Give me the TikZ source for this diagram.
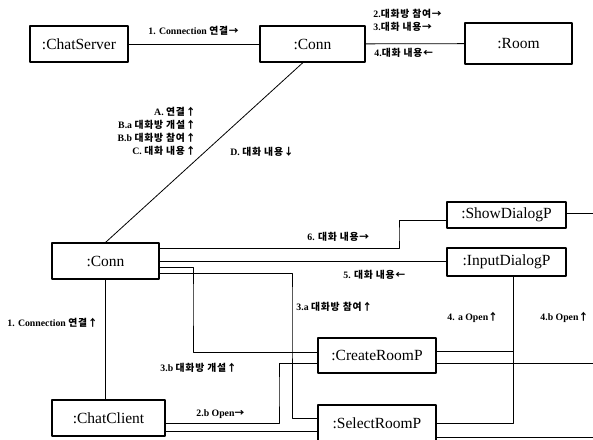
\documentclass[tikz,border=0pt]{standalone}
\usepackage{fontspec}
\setmainfont{Liberation Serif}
\newfontfamily\kr[LetterSpace=8]{Noto Sans CJK KR}
\newcommand\ko[1]{{\kr #1}}
\begin{document}
\begin{tikzpicture}[x=1pt,y=-1pt,line width=.8pt,line join=round,
obj/.style={draw,line width=1.1pt,inner sep=0pt,font=\fontsize{15.5}{17}\selectfont},
msg/.style={inner sep=0pt,font=\fontsize{9.8}{11}\selectfont\bfseries}]
\useasboundingbox (0,0) rectangle (593,439);
\clip (0,0) rectangle (593,439);
\foreach \n/\t/\x/\y/\w/\h in {ChatServer/:ChatServer/79/44/98/36,
ConnS/:Conn/312.5/44/105/36,Room/:Room/518.5/43.5/107/41,
ConnC/:Conn/105.5/261/107/36,ChatClient/:ChatClient/108.5/418/113/36,
ShowDialogP/:ShowDialogP/506.5/215/119/26,InputDialogP/:InputDialogP/506.5/262/119/28,
CreateRoomP/:CreateRoomP/377/355.5/118/35,SelectRoomP/:SelectRoomP/377/423/118/36}
\node[obj,minimum width=\w pt,minimum height=\h pt] (\n) at (\x,\y) {\t};
\path
(399,234)coordinate(kS)
(193,300)coordinate(kC)
(292,300)coordinate(kL)
(279,390)coordinate(kB)
(513,351)coordinate(kR);
% server side
\draw (ChatServer) -- (ConnS);
\draw (ConnS) -- (Room);
\draw ([xshift=-9.5pt]ConnS.south) -- (ConnC.north);
% client side
\draw (ConnC.south) -- (ConnC.south |- ChatClient.north);
\draw ([yshift=13pt]ConnC.east) -| (kS) |- ([yshift=-5pt]ShowDialogP.west);
\draw (ConnC.east) -- (ConnC.east -| InputDialogP.west);
\draw ([yshift=-6pt]ConnC.east) -| (kC) |- ([yshift=3.5pt]CreateRoomP.west);
\draw ([yshift=-12pt]ConnC.east) -| (kL) |- ([yshift=5pt]SelectRoomP.west);
\draw ([yshift=-5pt]ChatClient.east) -| (kB) |- ([yshift=-7.5pt]CreateRoomP.west);
\draw ([yshift=-13pt]ChatClient.east) -- ([yshift=-8pt]SelectRoomP.west);
\draw ([xshift=6.5pt]InputDialogP.south) |- (SelectRoomP.east);
\draw ([yshift=4.5pt]CreateRoomP.east) -- (kR);
\draw ([yshift=2pt]ShowDialogP.east) -- +(40,0);
\draw ([yshift=-7.5pt]CreateRoomP.east) -- +(170,0);
\draw ([yshift=-14pt]SelectRoomP.east) -- +(170,0);
% messages
\node[msg,anchor=west] (m1) at (148,31) {1. Connection \ko{연결→}};
\node[msg,anchor=west] (m2) at (373,14) {2.\ko{대화방 참여→}};
\node[msg,anchor=west] (m3) at (373,27) {3.\ko{대화 내용→}};
\node[msg,anchor=west] (m4) at (374,53) {4.\ko{대화 내용←}};
\node[msg,anchor=east] (mA) at (196,112) {A. \ko{연결↑}};
\node[msg,anchor=east] (mBa) at (196,125) {B.a \ko{대화방 개설↑}};
\node[msg,anchor=east] (mBb) at (196,138) {B.b \ko{대화방 참여↑}};
\node[msg,anchor=east] (mC) at (196,151) {C. \ko{대화 내용↑}};
\node[msg,anchor=west] (mD) at (230,152) {D. \ko{대화 내용↓}};
\node[msg,anchor=west] (m6) at (307,237) {6. \ko{대화 내용→}};
\node[msg,anchor=west] (m5) at (343,275) {5. \ko{대화 내용←}};
\node[msg,anchor=west] (m3a) at (296,307) {3.a \ko{대화방 참여↑}};
\node[msg,anchor=west] (m4a) at (447,317) {4. a Open\ko{↑}};
\node[msg,anchor=west] (m4b) at (540,317) {4.b Open\ko{↑}};
\node[msg,anchor=west] (m1c) at (7,323) {1. Connection \ko{연결↑}};
\node[msg,anchor=west] (m3b) at (160,368) {3.b \ko{대화방 개설↑}};
\node[msg,anchor=west] (m2b) at (196,414) {2.b Open\ko{→}};
\end{tikzpicture}
\end{document}
